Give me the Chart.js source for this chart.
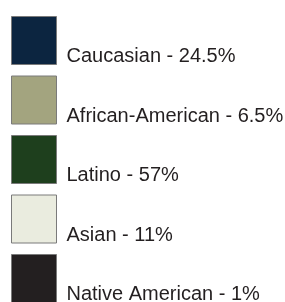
<!DOCTYPE html>
<html>
<head>
<meta charset="utf-8">
<script src="https://cdn.jsdelivr.net/npm/chart.js@4"></script>
<style>
    html, body { margin: 0; padding: 0; background: #ffffff; overflow: hidden; }
    canvas { display: block; }
</style>
</head>
<body>
<canvas id="ethnicity" width="285" height="640"></canvas>
<script>
var ethnicity_labels = ["Caucasian", "African-American", "Latino", "Asian", "Native American"];
var ethnicity_values = [24.5, 6.5, 57, 11, 1];
var ethnicity_colors = ["#0c2540", "#a3a47f", "#1e3f1d", "#eaecdf", "#231f20"];

this.generateEthnicityChart = function(){
    var ctx = document.getElementById("ethnicity").getContext("2d");
    var pieLabels = Chart.overrides.pie.plugins.legend.labels.generateLabels;

    // the crop only shows the legend, the pie itself sits below the visible area
    var chart1 = new Chart(ctx, {
        type: 'pie',
        data: {
            labels: ethnicity_labels,
            datasets: [{
                data: ethnicity_values,
                backgroundColor: ethnicity_colors,
                borderColor: "#7a7a7a",
                borderWidth: 1
            }]
        },
        options: {
            responsive: false,
            animation: false,
            layout: { padding: { top: 5 } },
            plugins: {
                tooltip: { enabled: false },
                legend: {
                    position: 'top',
                    align: 'start',
                    labels: {
                        boxWidth: 45,
                        boxHeight: 48,
                        padding: 11.5,
                        color: "#231f20",
                        font: { family: "'Liberation Sans', Arial, sans-serif", size: 20, lineHeight: 0.82 },
                        generateLabels: function(chart){
                            var items = pieLabels(chart);
                            items.forEach(function(item, i){
                                // empty first line pushes the text to the bottom of the box
                                item.text = ["", ethnicity_labels[i] + " - " + ethnicity_values[i] + "%"];
                            });
                            return items;
                        }
                    }
                }
            }
        }
    });
}

generateEthnicityChart();
</script>
</body>
</html>
